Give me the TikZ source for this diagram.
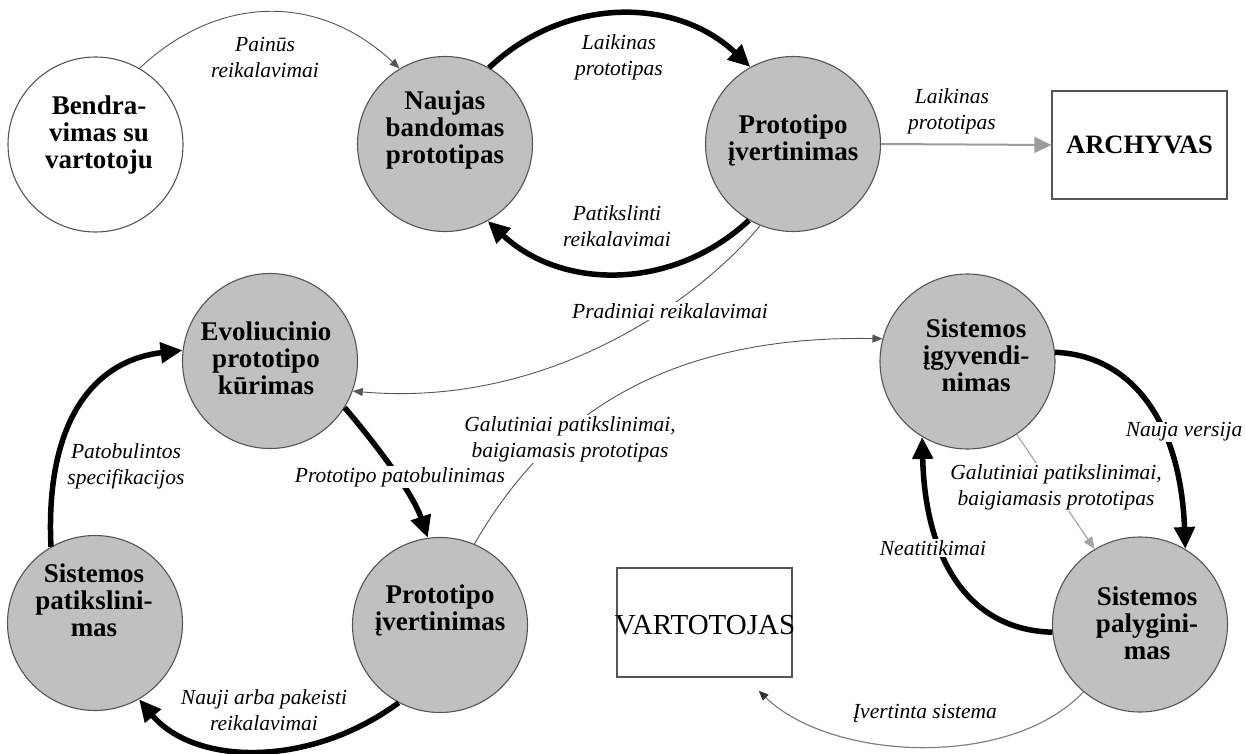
\documentclass[tikz,border=0pt]{standalone}
\usepackage{fontspec}
\setmainfont{Liberation Serif}
\usetikzlibrary{arrows.meta}
\definecolor{nodegray}{RGB}{192,192,192}
\definecolor{rimgray}{RGB}{85,85,85}
\definecolor{flowgray}{RGB}{155,155,155}
\definecolor{thingray}{RGB}{85,85,85}
\definecolor{lightflow}{RGB}{165,165,165}
\begin{document}
\begin{tikzpicture}[x=1pt,y=-1pt,
  proc/.style={circle,draw=rimgray,line width=1.1pt,fill=nodegray,minimum size=175pt,inner sep=0pt},
  ext/.style={proc,fill=white},
  store/.style={draw=rimgray,line width=1.3pt,fill=white,inner sep=0pt,minimum width=175pt},
  ptext/.style={align=center,inner sep=0pt,font=\fontsize{27}{27}\selectfont\bfseries},
  lbl/.style={align=center,inner sep=1pt,font=\fontsize{21.5}{26}\selectfont\itshape},
  lblbg/.style={lbl,fill=white},
  heavy/.style={line width=5.5pt,black,-{Triangle[length=22pt,width=20pt]}},
  thin/.style={line width=0.9pt,thingray,-{Triangle[length=10pt,width=8pt]}},
  pale/.style={line width=2pt,flowgray,-{Triangle[length=17pt,width=16pt]}},
  palethin/.style={line width=1.2pt,lightflow,-{Triangle[length=12pt,width=10pt]}},
  greyline/.style={line width=1.2pt,gray,-{Triangle[length=10pt,width=8pt,color=black!80]}},
]
\useasboundingbox (0,0) rectangle (1245,753);

% processes and stores
\node[ext]  (bend)    at (95.5,144.5) {};
\node[proc] (naujas)  at (445,144) {};
\node[proc] (vert1)   at (793,144) {};
\node[store,minimum height=108pt,font=\fontsize{26.5}{27}\selectfont\bfseries] (arch) at (1139.5,145) {ARCHYVAS};
\node[proc] (evol)    at (270,361) {};
\node[proc] (sisp)    at (95,623) {};
\node[proc] (vert2)   at (440,625) {};
\node[proc] (sysimpl) at (967.5,361.5) {};
\node[proc] (syscmp)  at (1140,624.5) {};
\node[store,minimum height=109pt] (vart) at (704.5,622.5) {};

% process captions
\node[ptext] (t1) at (99,135)   {Bendra-\\vimas su\\vartotoju};
\node[ptext] (t2) at (445,130)  {Naujas\\bandomas\\prototipas};
\node[ptext] (t3) at (793,140)  {Prototipo\\įvertinimas};
\node[ptext] (t4) at (266,358)  {Evoliucinio\\prototipo\\kūrimas};
\node[ptext] (t5) at (94,600)   {Sistemos\\patikslini-\\mas};
\node[ptext] (t6) at (440,610)  {Prototipo\\įvertinimas};
\node[ptext] (t7) at (976,355)  {Sistemos\\įgyvendi-\\nimas};
\node[ptext] (t8) at (1147,623) {Sistemos\\palygini-\\mas};
\node[font=\fontsize{29}{30}\selectfont] (vtxt) at (705,625) {VARTOTOJAS};

% flows
\draw[thin]  (bend.60) .. controls +(80,-75) and +(-80,-75) .. (naujas.121);
\draw[heavy] (naujas.60) .. controls +(75,-71) and +(-75,-71) .. (vert1.119);
\draw[heavy] (vert1.240) .. controls +(-75,70) and +(75,70) .. (naujas.299);
\draw[pale]  (vert1.east) -- (arch.west);
\draw[thin]  (vert1.248) .. controls +(-50,62) and +(207,18) .. (evol.340);
\draw[heavy] (evol.328) .. controls +(30,35) and +(-15,-45) .. (vert2.98);
\draw[thin]  (vert2.67) .. controls +(66,-114) and +(-233,-4) .. (sysimpl.165);
\draw[heavy] (sisp.120) .. controls +(-6,-127) and +(-88,10) .. (evol.173);
\draw[heavy] (vert2.242) .. controls +(-90,66) and +(55,66) .. (sisp.300);
\draw[heavy] (sysimpl.6) .. controls +(75,3) and +(-5,-130) .. (syscmp.59);
\draw[heavy] (syscmp.185) .. controls +(-83,-2) and +(3,123.5) .. (sysimpl.239);
\draw[palethin] (sysimpl.304) -- (syscmp.121);
\draw[greyline] (syscmp.230) .. controls +(-74,78) and +(72,70) .. ([xshift=-34pt,yshift=-13pt]vart.south east);

% flow labels
\node[lbl]   (l1)  at (265,57)   {Painūs\\reikalavimai};
\node[lbl]   (l2)  at (619,57)   {Laikinas\\prototipas};
\node[lbl]   (l3)  at (617,226)  {Patikslinti\\reikalavimai};
\node[lbl]   (l4)  at (952,111)  {Laikinas\\prototipas};
\node[lblbg] (l5)  at (670,311)  {Pradiniai reikalavimai};
\node[lblbg] (l6)  at (400,477)  {Prototipo patobulinimas};
\node[lblbg] (l7)  at (570,439)  {Galutiniai patikslinimai,\\baigiamasis prototipas};
\node[lbl]   (l8)  at (126,466)  {Patobulintos\\specifikacijos};
\node[lbl]   (l9)  at (264,710)  {Nauji arba pakeisti\\reikalavimai};
\node[lblbg] (l10) at (1184,432) {Nauja versija};
\node[lblbg] (l11) at (933,548)  {Neatitikimai};
\node[lblbg] (l12) at (1056,487) {Galutiniai patikslinimai,\\baigiamasis prototipas};
\node[lbl]   (l13) at (925,713)  {Įvertinta sistema};
\end{tikzpicture}
\end{document}
